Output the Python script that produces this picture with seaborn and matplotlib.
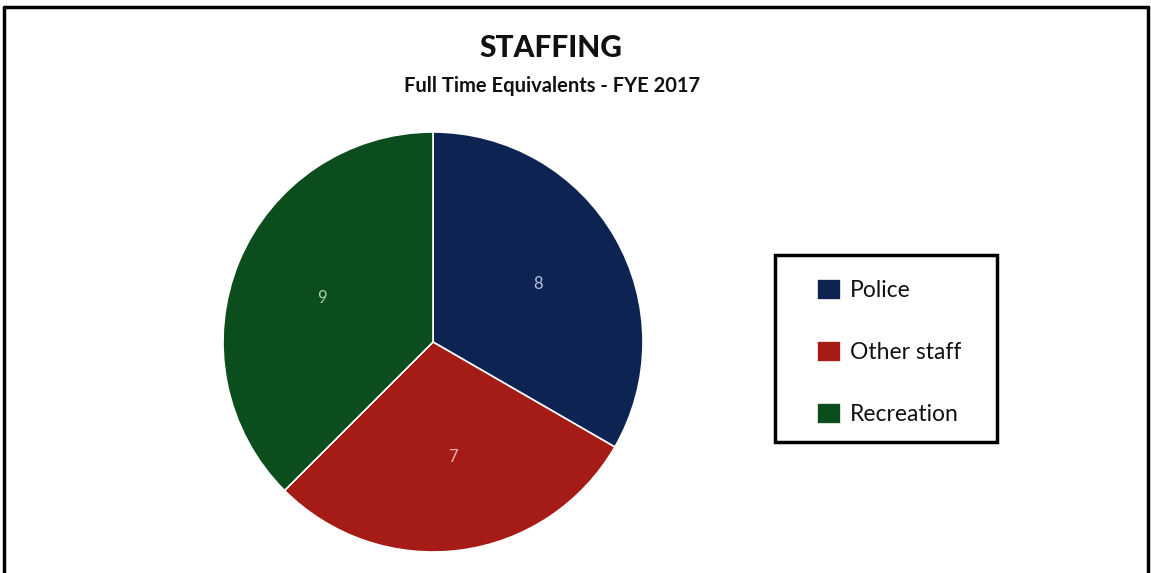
import matplotlib
matplotlib.use("Agg")
import matplotlib.pyplot as plt
import seaborn as sns
from matplotlib.lines import Line2D
from matplotlib.patches import Rectangle

categories = ["Police", "Other staff", "Recreation"]
values = [8, 7, 9]
colors = ["#0d2452", "#a51b16", "#0b4d1c"]
label_colors = ["#b4bed8", "#f2b0aa", "#a8d0ae"]
title = "STAFFING"
subtitle = "Full Time Equivalents - FYE 2017"

sns.set_theme(style="white")
plt.rcParams['font.family'] = ['Lato', 'DejaVu Sans']

W, H = 1151, 573
fig = plt.figure(figsize=(W / 100, H / 100), dpi=100)
fig.patch.set_facecolor("white")

def fx(px):
    return px / W

def fy(py):
    return 1 - py / H

# pie axes: center (433, 342), radius 210 px
cx, cy, r = 433, 342, 210
ax = fig.add_axes([fx(cx - r), fy(cy + r), 2 * r / W, 2 * r / H])
wedges, texts = ax.pie(values, colors=colors, startangle=90, counterclock=False,
                       labels=[str(v) for v in values], labeldistance=0.55,
                       radius=1, wedgeprops=dict(edgecolor="white", linewidth=1.2),
                       textprops=dict(fontsize=12))
for t, c in zip(texts, label_colors):
    t.set_color(c)
ax.set_xlim(-1, 1)
ax.set_ylim(-1, 1)
ax.set_aspect("auto")
ax.axis("off")

# titles
fig.text(fx(551), fy(48), title, ha="center", va="center", fontsize=21.5,
         fontweight="black", color="#111111")
fig.text(fx(552), fy(86), subtitle, ha="center", va="center", fontsize=14.5,
         fontweight="bold", color="#111111")

# legend
leg = fig.legend(wedges, categories, loc="upper left",
                 bbox_to_anchor=(fx(817), fy(279)), frameon=False,
                 borderpad=0, borderaxespad=0, fontsize=16.5,
                 handlelength=1.05, handleheight=1.05, handletextpad=0.4,
                 labelspacing=1.72)
for t in leg.get_texts():
    t.set_color("#111111")
fig.add_artist(Rectangle((fx(775), fy(442)), fx(997) - fx(775), fy(255) - fy(442),
                         transform=fig.transFigure, fill=False, edgecolor="black",
                         linewidth=2.5))

# outer frame (left, top, right)
lw = 2.5
fig.add_artist(Line2D([fx(4), fx(4)], [0, fy(7)], transform=fig.transFigure,
                      color="black", linewidth=lw))
fig.add_artist(Line2D([fx(4), fx(1148)], [fy(7), fy(7)], transform=fig.transFigure,
                      color="black", linewidth=lw))
fig.add_artist(Line2D([fx(1148), fx(1148)], [0, fy(7)], transform=fig.transFigure,
                      color="black", linewidth=lw))

fig.savefig("out.png", dpi=100, facecolor="white")
